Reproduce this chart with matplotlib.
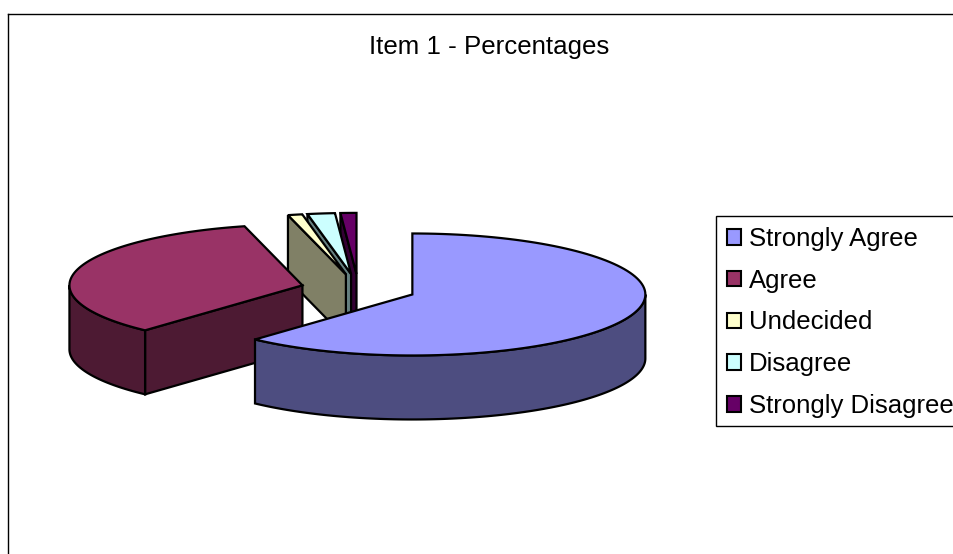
import numpy as np
import matplotlib
matplotlib.use('Agg')
import matplotlib.pyplot as plt
from matplotlib.patches import Patch, Polygon, Rectangle

plt.rcParams['font.family'] = ['Liberation Sans', 'DejaVu Sans']

# Data
categories = ['Strongly Agree', 'Agree', 'Undecided', 'Disagree', 'Strongly Disagree']
percentages = [61.8, 34.2, 1, 1.9, 1.1]
colors = ['#9999FF', '#993366', '#FFFFCC', '#CCFFFF', '#660066']
side_colors = ['#4D4D80', '#4D1A33', '#808066', '#668080', '#330033']
title = 'Item 1 - Percentages'

# Pie geometry in image pixels
CENTER_X, CENTER_Y = 358.5, 289
RADIUS_X, RADIUS_Y = 233, 61
DEPTH = 64
EXPLODE = 0.248
EDGE_LW = 1.6


def ellipse_points(cx, cy, start, end, n=120):
    t = np.radians(np.linspace(start, end, n))
    return np.column_stack([cx + RADIUS_X * np.sin(t), cy - RADIUS_Y * np.cos(t)])


def add_poly(ax, pts, color, z):
    ax.add_patch(Polygon(pts, closed=True, facecolor=color, edgecolor='black',
                         linewidth=EDGE_LW, joinstyle='miter', zorder=z))


def draw_slice(ax, start, end, color, side_color, z):
    mid = np.radians((start + end) / 2)
    cx = CENTER_X + EXPLODE * RADIUS_X * np.sin(mid)
    cy = CENTER_Y - EXPLODE * RADIUS_Y * np.cos(mid)
    down = np.array([0, DEPTH])
    hub = np.array([cx, cy])

    # radial face at the start angle (seen when it looks to the front or left)
    p = ellipse_points(cx, cy, start, start, 1)[0]
    if start > 180:
        add_poly(ax, [hub, p, p + down, hub + down], side_color, z)

    # rim, only the part on the near half of the ellipse
    a, b = max(start, 90), min(end, 270)
    if b > a:
        rim = ellipse_points(cx, cy, a, b)
        add_poly(ax, np.vstack([rim, rim[::-1] + down]), side_color, z)

    top = np.vstack([[hub], ellipse_points(cx, cy, start, end)])
    add_poly(ax, top, color, z)


fig = plt.figure(figsize=(9.54, 5.54), dpi=100)
ax = fig.add_axes([0, 0, 1, 1])
ax.set_xlim(0, 954)
ax.set_ylim(554, 0)
ax.axis('off')

# chart area border, runs off the right and bottom of the image
ax.plot([8, 8], [560, 14], color='black', lw=1.0, zorder=1)
ax.plot([8, 960], [14, 14], color='black', lw=1.0, zorder=1)

ax.text(489, 47, title, fontsize=18.6, ha='center', va='center')

angles = np.cumsum([0] + percentages) * 3.6
# back slices first, right to left
order = [4, 3, 2, 1, 0]
for z, i in enumerate(order):
    draw_slice(ax, angles[i], angles[i + 1], colors[i], side_colors[i], 2 + z)

# legend box drawn apart so it can match the reference height
ax.add_patch(Rectangle((716, 216), 250, 210, facecolor='white', edgecolor='black',
                       linewidth=1.0, zorder=9))
handles = [Patch(facecolor=c, edgecolor='black', linewidth=1.5) for c in colors]
leg = ax.legend(handles, categories, loc='upper left', bbox_to_anchor=(727, 227),
                bbox_transform=ax.transData, borderaxespad=0, fontsize=18.5,
                frameon=False, handlelength=0.55, handleheight=0.55,
                handletextpad=0.3, labelspacing=0.69, borderpad=0)
leg.set_zorder(10)

fig.savefig('out.png', dpi=100)
